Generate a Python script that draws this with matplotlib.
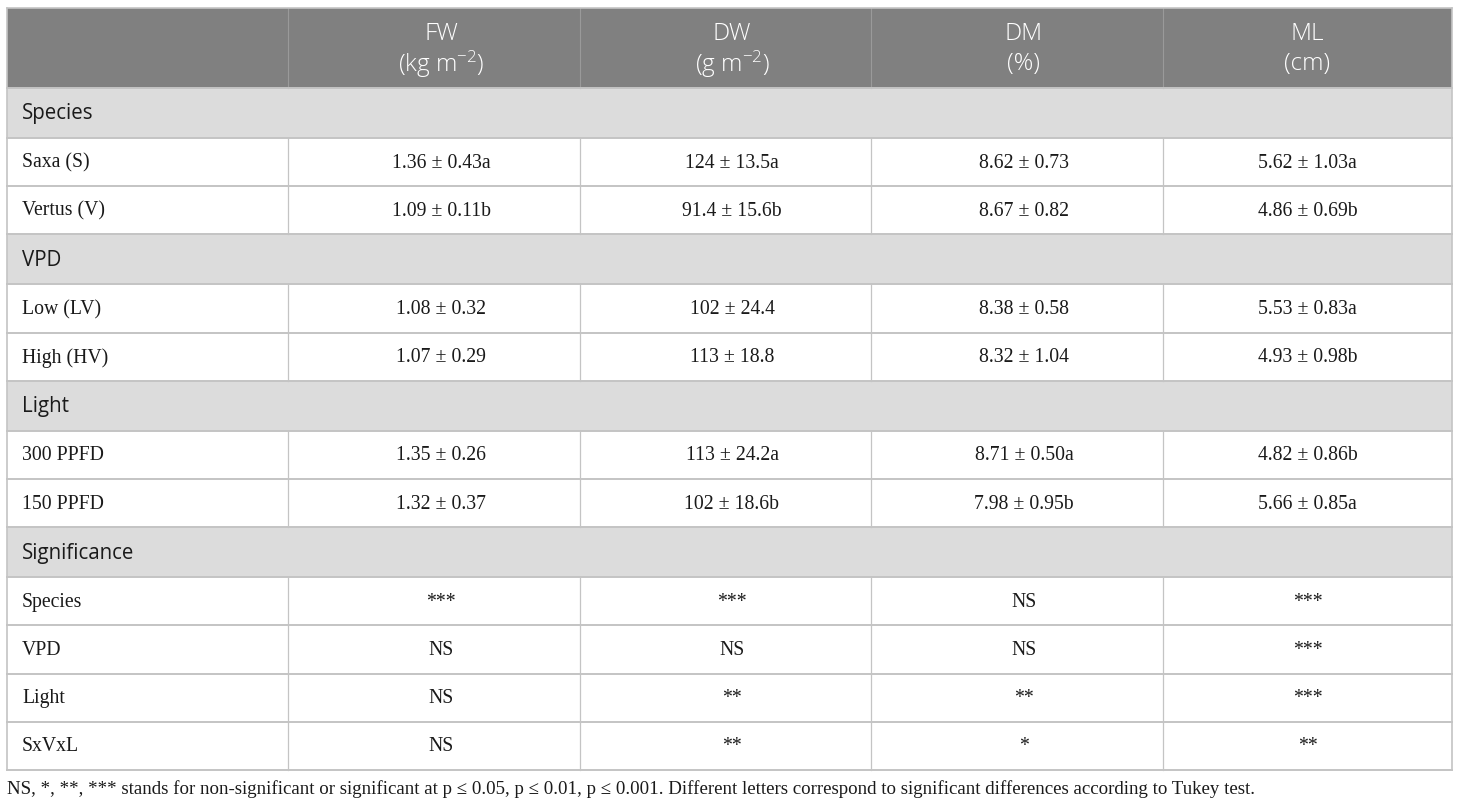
import matplotlib
matplotlib.use("Agg")
import matplotlib.pyplot as plt
from matplotlib.patches import Rectangle

plt.rcParams['mathtext.fontset'] = 'custom'
plt.rcParams['mathtext.rm'] = 'Open Sans:light'
plt.rcParams['mathtext.it'] = 'Open Sans:light'

# ---- data ----
col_titles = ["FW", "DW", "DM", "ML"]
col_units = [r"(kg m$^{-2}$)", r"(g m$^{-2}$)", "(%)", "(cm)"]

groups = ["Species", "VPD", "Light", "Significance"]
row_labels = [
    ["Saxa (S)", "Vertus (V)"],
    ["Low (LV)", "High (HV)"],
    ["300 PPFD", "150 PPFD"],
    ["Species", "VPD", "Light", "SxVxL"],
]
cell_values = [
    [["1.36 ± 0.43a", "124 ± 13.5a", "8.62 ± 0.73", "5.62 ± 1.03a"],
     ["1.09 ± 0.11b", "91.4 ± 15.6b", "8.67 ± 0.82", "4.86 ± 0.69b"]],
    [["1.08 ± 0.32", "102 ± 24.4", "8.38 ± 0.58", "5.53 ± 0.83a"],
     ["1.07 ± 0.29", "113 ± 18.8", "8.32 ± 1.04", "4.93 ± 0.98b"]],
    [["1.35 ± 0.26", "113 ± 24.2a", "8.71 ± 0.50a", "4.82 ± 0.86b"],
     ["1.32 ± 0.37", "102 ± 18.6b", "7.98 ± 0.95b", "5.66 ± 0.85a"]],
    [["***", "***", "NS", "***"],
     ["NS", "NS", "NS", "***"],
     ["NS", "**", "**", "***"],
     ["NS", "**", "*", "**"]],
]
footnote = ("NS, *, **, *** stands for non-significant or significant at p ≤ 0.05, p ≤ 0.01, p ≤ 0.001. "
            "Different letters correspond to significant differences according to Tukey test.")

# ---- layout (pixel coordinates) ----
W, H = 1460, 808
fig = plt.figure(figsize=(W / 100, H / 100), dpi=100)
ax = fig.add_axes([0, 0, 1, 1])
ax.set_xlim(0, W)
ax.set_ylim(H, 0)
ax.axis('off')

x_edges = [7, 288, 580, 871, 1163, 1452]
text_shift = [7, 6.5, 7, 0]
top = 8
header_h = 80
group_h = 50
row_h = 48.2

header_bg = "#808080"
group_bg = "#dcdcdc"
line_c = "#c4c4c4"
txt_c = "#1a1a1a"
serif = "Liberation Serif"
sans = "Open Sans"
body_fs = 14.2
head_fs = 17.5
group_fs = 14.8
foot_fs = 13.6

left, right = x_edges[0], x_edges[-1]


def col_center(j):
    return (x_edges[j + 1] + x_edges[j + 2]) / 2 + text_shift[j]


# header
ax.add_patch(Rectangle((left, top), right - left, header_h, facecolor=header_bg, edgecolor='none'))
for i in range(1, len(x_edges) - 1):
    ax.plot([x_edges[i]] * 2, [top, top + header_h], color="#9a9a9a", lw=0.8)
for j, (t, u) in enumerate(zip(col_titles, col_units)):
    cx = col_center(j)
    ax.text(cx, top + 26, t, ha='center', va='center', color='white', family=sans,
            fontweight='light', fontsize=head_fs)
    ax.text(cx, top + 56, u, ha='center', va='center', color='white', family=sans,
            fontweight='light', fontsize=head_fs)

y = top + header_h
hlines = [y]
for g, labels, vals in zip(groups, row_labels, cell_values):
    ax.add_patch(Rectangle((left, y), right - left, group_h, facecolor=group_bg, edgecolor='none'))
    ax.text(left + 15, y + group_h / 2 + 1, g, ha='left', va='center', color=txt_c, family=sans, fontsize=group_fs)
    y += group_h
    hlines.append(y)
    for lab, rv in zip(labels, vals):
        cy = y + row_h / 2 + 1
        ax.text(left + 15, cy, lab, ha='left', va='center', color=txt_c, family=serif, fontsize=body_fs)
        for j, v in enumerate(rv):
            ax.text(col_center(j), cy, v, ha='center', va='center', color=txt_c, family=serif, fontsize=body_fs)
        for i in range(1, len(x_edges) - 1):
            ax.plot([x_edges[i]] * 2, [y, y + row_h], color=line_c, lw=0.9)
        y += row_h
        hlines.append(y)

for hy in hlines:
    ax.plot([left, right], [hy, hy], color=line_c, lw=1.4)
# outer borders
ax.plot([left, left], [top, y], color=line_c, lw=1.2)
ax.plot([right, right], [top, y], color=line_c, lw=1.2)
ax.plot([left, right], [top, top], color=line_c, lw=1.2)

ax.text(left, y + 19, footnote, ha='left', va='center', color=txt_c, family=serif, fontsize=foot_fs)

fig.savefig("out.png", dpi=100)
